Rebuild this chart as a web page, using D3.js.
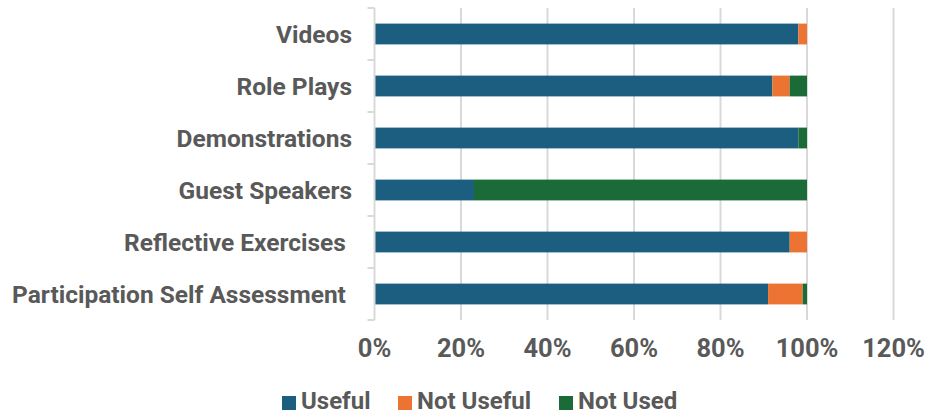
<!DOCTYPE html>
<html>
<head>
<meta charset="utf-8">
<script src="https://cdn.jsdelivr.net/npm/d3@7"></script>
<style>
  body { margin: 0; background: #fff; }
  text { font-family: Roboto, "Liberation Sans", sans-serif; font-weight: bold; fill: #595959; white-space: pre; }
</style>
</head>
<body>
<div id="chart"></div>
<script>
// chart data
const categories = ['Videos', 'Role Plays', 'Demonstrations', 'Guest Speakers', 'Reflective Exercises ', 'Participation Self Assessment '];
const seriesNames = ['Useful', 'Not Useful', 'Not Used'];
const useful = [98, 92, 98, 23, 96, 91];
const notUseful = [2, 4, 0, 0, 4, 8];
const notUsed = [0, 4, 2, 77, 0, 1];
const tickValues = [0, 20, 40, 60, 80, 100, 120];
const colors = ['#1b5e7f', '#ec7332', '#1a6b38'];

const width = 942, height = 415;
const margin = { top: 8, right: 48, bottom: 95, left: 374.5 };

const svg = d3.select('#chart').append('svg').attr('width', width).attr('height', height);

// build rows for the stack
const rows = categories.map((c, i) => ({ cat: c, Useful: useful[i], 'Not Useful': notUseful[i], 'Not Used': notUsed[i] }));
const stacked = d3.stack().keys(seriesNames)(rows);

const x = d3.scaleLinear().domain([0, 120]).range([margin.left, margin.left + 432.5 * 1.2]);
const y = d3.scaleBand().domain(categories).range([margin.top, height - margin.bottom]).paddingInner(0.6).paddingOuter(0.3);

// vertical gridlines
svg.append('g')
  .selectAll('line')
  .data(tickValues.slice(1))
  .enter()
  .append('line')
  .attr('x1', (d) => x(d))
  .attr('x2', (d) => x(d))
  .attr('y1', margin.top)
  .attr('y2', height - margin.bottom)
  .attr('stroke', '#d9d9d9')
  .attr('stroke-width', 2);

// bars
svg.append('g')
  .selectAll('g')
  .data(stacked)
  .enter()
  .append('g')
  .attr('fill', (d, i) => colors[i])
  .selectAll('rect')
  .data((d) => d)
  .enter()
  .append('rect')
  .attr('x', (d) => x(d[0]))
  .attr('width', (d) => x(d[1]) - x(d[0]))
  .attr('y', (d) => y(d.data.cat))
  .attr('height', y.bandwidth());

// left axis line with tick marks between categories
const step = y.step();
const bounds = d3.range(categories.length + 1).map((i) => margin.top + i * step);
const yAxis = svg.append('g');
yAxis.append('line')
  .attr('x1', x(0)).attr('x2', x(0))
  .attr('y1', margin.top).attr('y2', height - margin.bottom)
  .attr('stroke', '#d9d9d9').attr('stroke-width', 2);
yAxis.selectAll('line.tick')
  .data(bounds)
  .enter()
  .append('line')
  .attr('class', 'tick')
  .attr('x1', x(0) - 7).attr('x2', x(0))
  .attr('y1', (d) => d).attr('y2', (d) => d)
  .attr('stroke', '#d9d9d9').attr('stroke-width', 2);

// category labels
svg.append('g')
  .selectAll('text')
  .data(categories)
  .enter()
  .append('text')
  .attr('x', 352)
  .attr('y', (d) => y(d) + y.bandwidth() / 2)
  .attr('dy', '0.36em')
  .attr('text-anchor', 'end')
  .style('font-size', '24.5px')
  .text((d) => d);

// x tick labels
svg.append('g')
  .selectAll('text')
  .data(tickValues)
  .enter()
  .append('text')
  .attr('x', (d) => x(d))
  .attr('y', 357)
  .attr('text-anchor', 'middle')
  .style('font-size', '25.5px')
  .text((d) => d + '%');

// legend
const legendX = [282, 398, 559];
const legend = svg.append('g')
  .selectAll('g')
  .data(seriesNames)
  .enter()
  .append('g')
  .attr('transform', (d, i) => `translate(${legendX[i]},0)`);
legend.append('rect')
  .attr('y', 396).attr('width', 14).attr('height', 14)
  .attr('fill', (d, i) => colors[i]);
legend.append('text')
  .attr('x', 19).attr('y', 409)
  .style('font-size', '24px')
  .text((d) => d);
</script>
</body>
</html>
